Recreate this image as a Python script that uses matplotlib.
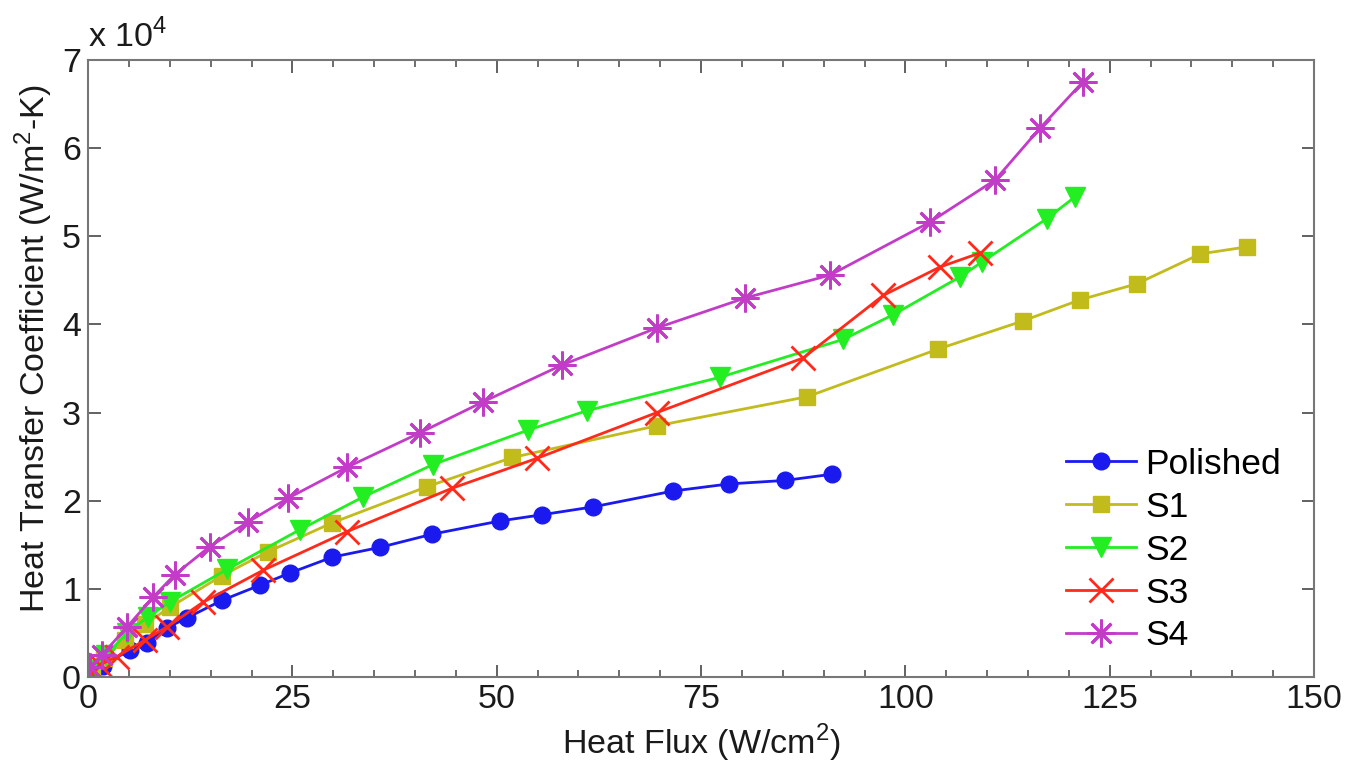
import numpy as np
import matplotlib.pyplot as plt
from matplotlib.ticker import MultipleLocator

plt.rcParams['font.family'] = ['Liberation Sans', 'DejaVu Sans']
plt.rcParams['mathtext.fontset'] = 'custom'
plt.rcParams['mathtext.rm'] = 'Liberation Sans'

# heat flux (W/cm^2) and heat transfer coefficient (x 1e4 W/m^2-K)
polished_q = [0.5, 1.8, 5.1, 7.2, 9.7, 12.1, 16.4, 21.0, 24.7, 29.9, 35.7, 42.1, 50.4, 55.5, 61.8, 71.6, 78.4, 85.3, 91.0]
polished_h = [0.05, 0.12, 0.31, 0.39, 0.56, 0.67, 0.87, 1.04, 1.18, 1.36, 1.47, 1.62, 1.77, 1.84, 1.93, 2.11, 2.19, 2.23, 2.30]

s1_q = [0.5, 2.0, 4.5, 7.0, 10.0, 16.4, 22.0, 29.9, 41.5, 51.9, 69.6, 88.0, 104.0, 114.4, 121.4, 128.3, 136.1, 141.8]
s1_h = [0.08, 0.22, 0.42, 0.60, 0.79, 1.15, 1.42, 1.75, 2.16, 2.49, 2.85, 3.18, 3.72, 4.04, 4.28, 4.46, 4.80, 4.88]

s2_q = [0.5, 2.2, 4.8, 7.3, 10.0, 17.0, 25.9, 33.6, 42.2, 53.8, 61.0, 77.3, 92.4, 98.5, 106.7, 109.4, 117.3, 120.8]
s2_h = [0.08, 0.25, 0.50, 0.68, 0.85, 1.22, 1.67, 2.04, 2.41, 2.80, 3.02, 3.40, 3.83, 4.11, 4.54, 4.71, 5.20, 5.45]

s3_q = [0.3, 1.5, 3.5, 7.0, 9.7, 14.1, 21.4, 31.7, 44.5, 54.9, 69.6, 87.5, 97.3, 104.2, 109.1]
s3_h = [0.04, 0.14, 0.23, 0.42, 0.57, 0.85, 1.21, 1.65, 2.14, 2.48, 3.00, 3.62, 4.33, 4.65, 4.81]

s4_q = [0.2, 1.7, 4.8, 8.0, 10.6, 14.9, 19.6, 24.5, 31.7, 40.6, 48.3, 58.0, 69.6, 80.4, 90.8, 103.0, 111.0, 116.5, 121.7]
s4_h = [0.11, 0.25, 0.57, 0.91, 1.16, 1.48, 1.76, 2.03, 2.38, 2.77, 3.12, 3.54, 3.96, 4.30, 4.56, 5.16, 5.64, 6.23, 6.75]

fig = plt.figure(figsize=(13.63, 7.75), dpi=100)
ax = fig.add_axes([0.0646, 0.1265, 0.8995, 0.7961])

lw = 2.0
ax.plot(polished_q, polished_h, '-o', color='#1a1aee', lw=lw, ms=12, mec='#1a1aee', label='Polished')
ax.plot(s1_q, s1_h, '-s', color='#c2bb1c', lw=lw, ms=12, mec='#c2bb1c', label='S1')
ax.plot(s2_q, s2_h, '-v', color='#22ee22', lw=lw, ms=14, mec='#22ee22', label='S2')
ax.plot(s3_q, s3_h, '-x', color='#ff2a1a', lw=lw, ms=17, mew=2.0, label='S3')
ax.plot(s4_q, s4_h, '-', marker=(8, 2, 0), color='#c23cc8', lw=lw, ms=20, mew=2.0, label='S4')

ax.set_xlim(0, 150)
ax.set_ylim(0, 7)
ax.xaxis.set_major_locator(MultipleLocator(25))
ax.xaxis.set_minor_locator(MultipleLocator(5))
ax.yaxis.set_major_locator(MultipleLocator(1))
ax.tick_params(which='both', direction='in', top=True, right=True, labelsize=24.5,
               color='#555555', labelcolor='#1a1a1a')
ax.tick_params(which='major', length=9, width=1.3, pad=5)
ax.tick_params(which='minor', length=5, width=1.2)
for sp in ax.spines.values():
    sp.set_color('#777777')
    sp.set_linewidth(1.5)

ax.set_xlabel('Heat Flux (W/cm$^{2}$)', fontsize=24.5, color='#1a1a1a', labelpad=5)
ax.set_ylabel('Heat Transfer Coefficient (W/m$^{2}$-K)', fontsize=24.5, color='#1a1a1a')
ax.yaxis.set_label_coords(-0.027, 0.532)
ax.text(0.0, 1.01, r'x 10$^{4}$', transform=ax.transAxes, fontsize=24.5, color='#1a1a1a',
        ha='left', va='bottom')

ax.legend(loc='lower right', bbox_to_anchor=(0.999, -0.012), frameon=False, fontsize=25.5,
          handlelength=2.0, handletextpad=0.25, labelspacing=0.28)

fig.savefig('out.png', dpi=100)
